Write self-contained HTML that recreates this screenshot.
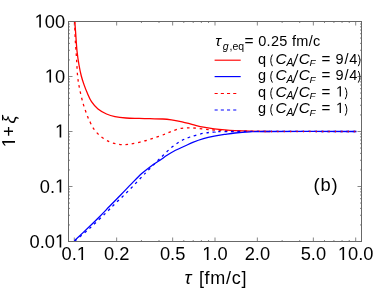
<!DOCTYPE html><html><head><meta charset="utf-8"><style>html,body{margin:0;padding:0;background:#fff}svg{display:block;will-change:transform}text{font-family:"Liberation Sans",sans-serif;fill:#000}</style></head><body>
<svg width="374" height="290" viewBox="0 0 374 290">
<rect width="374" height="290" fill="#fff"/>
<path d="M74.30 241.50V237.50 M74.30 21.50V25.50 M116.65 241.50V237.50 M116.65 21.50V25.50 M141.43 241.50V240.00 M141.43 21.50V23.00 M159.01 241.50V240.00 M159.01 21.50V23.00 M172.65 241.50V237.50 M172.65 21.50V25.50 M183.79 241.50V240.00 M183.79 21.50V23.00 M193.21 241.50V240.00 M193.21 21.50V23.00 M201.36 241.50V240.00 M201.36 21.50V23.00 M208.56 241.50V240.00 M208.56 21.50V23.00 M215.00 241.50V237.50 M215.00 21.50V25.50 M257.35 241.50V237.50 M257.35 21.50V25.50 M282.13 241.50V240.00 M282.13 21.50V23.00 M299.71 241.50V240.00 M299.71 21.50V23.00 M313.35 241.50V237.50 M313.35 21.50V25.50 M324.49 241.50V240.00 M324.49 21.50V23.00 M333.91 241.50V240.00 M333.91 21.50V23.00 M342.06 241.50V240.00 M342.06 21.50V23.00 M349.26 241.50V240.00 M349.26 21.50V23.00 M355.70 241.50V237.50 M355.70 21.50V25.50 M68.50 241.50H72.50 M361.50 241.50H357.50 M68.50 224.94H70.00 M361.50 224.94H360.00 M68.50 215.26H70.00 M361.50 215.26H360.00 M68.50 208.39H70.00 M361.50 208.39H360.00 M68.50 203.06H70.00 M361.50 203.06H360.00 M68.50 198.70H70.00 M361.50 198.70H360.00 M68.50 195.02H70.00 M361.50 195.02H360.00 M68.50 191.83H70.00 M361.50 191.83H360.00 M68.50 189.02H70.00 M361.50 189.02H360.00 M68.50 186.50H72.50 M361.50 186.50H357.50 M68.50 169.94H70.00 M361.50 169.94H360.00 M68.50 160.26H70.00 M361.50 160.26H360.00 M68.50 153.39H70.00 M361.50 153.39H360.00 M68.50 148.06H70.00 M361.50 148.06H360.00 M68.50 143.70H70.00 M361.50 143.70H360.00 M68.50 140.02H70.00 M361.50 140.02H360.00 M68.50 136.83H70.00 M361.50 136.83H360.00 M68.50 134.02H70.00 M361.50 134.02H360.00 M68.50 131.50H72.50 M361.50 131.50H357.50 M68.50 114.94H70.00 M361.50 114.94H360.00 M68.50 105.26H70.00 M361.50 105.26H360.00 M68.50 98.39H70.00 M361.50 98.39H360.00 M68.50 93.06H70.00 M361.50 93.06H360.00 M68.50 88.70H70.00 M361.50 88.70H360.00 M68.50 85.02H70.00 M361.50 85.02H360.00 M68.50 81.83H70.00 M361.50 81.83H360.00 M68.50 79.02H70.00 M361.50 79.02H360.00 M68.50 76.50H72.50 M361.50 76.50H357.50 M68.50 59.94H70.00 M361.50 59.94H360.00 M68.50 50.26H70.00 M361.50 50.26H360.00 M68.50 43.39H70.00 M361.50 43.39H360.00 M68.50 38.06H70.00 M361.50 38.06H360.00 M68.50 33.70H70.00 M361.50 33.70H360.00 M68.50 30.02H70.00 M361.50 30.02H360.00 M68.50 26.83H70.00 M361.50 26.83H360.00 M68.50 24.02H70.00 M361.50 24.02H360.00 M68.50 21.50H72.50 M361.50 21.50H357.50" stroke="#686868" stroke-width="0.8" fill="none"/>
<clipPath id="c"><rect x="68.50" y="21.50" width="293.00" height="220.00"/></clipPath>
<g clip-path="url(#c)" fill="none" stroke-width="1.3">
<path d="M74.80 21.40 C74.97 23.67 75.43 30.07 75.80 35.00 C76.17 39.93 76.47 46.00 77.00 51.00 C77.53 56.00 78.28 60.83 79.00 65.00 C79.72 69.17 80.47 72.73 81.30 76.00 C82.13 79.27 83.00 81.75 84.00 84.60 C85.00 87.45 86.05 90.25 87.30 93.10 C88.55 95.95 89.72 99.05 91.50 101.70 C93.28 104.35 95.50 106.95 98.00 109.00 C100.50 111.05 103.67 112.72 106.50 114.00 C109.33 115.28 111.75 116.03 115.00 116.70 C118.25 117.37 122.00 117.72 126.00 118.00 C130.00 118.28 135.00 118.28 139.00 118.40 C143.00 118.52 146.03 118.60 150.00 118.70 C153.97 118.80 159.23 118.80 162.80 119.00 C166.37 119.20 168.18 119.43 171.40 119.90 C174.62 120.37 178.53 121.02 182.10 121.80 C185.67 122.58 189.23 123.70 192.80 124.60 C196.37 125.50 199.93 126.50 203.50 127.20 C207.07 127.90 210.63 128.35 214.20 128.80 C217.77 129.25 221.43 129.60 224.90 129.90 C228.37 130.20 230.82 130.38 235.00 130.60 C239.18 130.82 244.17 131.05 250.00 131.20 C255.83 131.35 266.67 131.45 270.00 131.50" stroke="#f00"/>
<path d="M74.40 240.80 C77.00 238.33 85.73 230.10 90.00 226.00 C94.27 221.90 96.73 219.48 100.00 216.20 C103.27 212.92 106.12 209.88 109.60 206.30 C113.08 202.72 117.15 198.57 120.90 194.70 C124.65 190.83 128.63 186.62 132.10 183.10 C135.57 179.58 138.50 176.47 141.70 173.60 C144.90 170.73 148.25 168.13 151.30 165.90 C154.35 163.67 157.38 161.97 160.00 160.20 C162.62 158.43 164.63 156.83 167.00 155.30 C169.37 153.77 171.22 152.55 174.20 151.00 C177.18 149.45 181.80 147.43 184.90 146.00 C188.00 144.57 189.70 143.62 192.80 142.40 C195.90 141.18 199.93 139.73 203.50 138.70 C207.07 137.67 210.63 136.92 214.20 136.20 C217.77 135.48 221.43 134.93 224.90 134.40 C228.37 133.87 230.82 133.42 235.00 133.00 C239.18 132.58 245.00 132.15 250.00 131.90 C255.00 131.65 247.25 131.57 265.00 131.50 C282.75 131.43 341.25 131.50 356.50 131.50" stroke="#00f"/>
<path d="M74.60 21.40 C74.72 24.50 74.98 33.90 75.30 40.00 C75.62 46.10 76.12 52.00 76.50 58.00 C76.88 64.00 77.08 70.87 77.60 76.00 C78.12 81.13 78.67 84.17 79.60 88.80 C80.53 93.43 81.87 99.17 83.20 103.80 C84.53 108.43 86.58 113.85 87.60 116.60 C88.62 119.35 88.27 118.25 89.30 120.30 C90.33 122.35 91.90 126.22 93.80 128.90 C95.70 131.58 98.12 134.27 100.70 136.40 C103.28 138.53 106.45 140.42 109.30 141.70 C112.15 142.98 115.13 143.62 117.80 144.10 C120.47 144.58 122.80 144.67 125.30 144.60 C127.80 144.53 129.77 144.27 132.80 143.70 C135.83 143.13 139.93 142.17 143.50 141.20 C147.07 140.23 150.63 139.07 154.20 137.90 C157.77 136.73 162.03 135.27 164.90 134.20 C167.77 133.13 168.88 132.43 171.40 131.50 C173.92 130.57 177.15 129.22 180.00 128.60 C182.85 127.98 185.67 127.85 188.50 127.80 C191.33 127.75 194.15 128.05 197.00 128.30 C199.85 128.55 202.73 129.02 205.60 129.30 C208.47 129.58 210.13 129.73 214.20 130.00 C218.27 130.27 224.03 130.68 230.00 130.90 C235.97 131.12 244.67 131.20 250.00 131.30 C255.33 131.40 260.00 131.47 262.00 131.50" stroke="#f00" stroke-dasharray="2.6 3.8"/>
<path d="M74.80 241.00 C77.33 238.83 84.72 232.78 90.00 228.00 C95.28 223.22 102.17 216.50 106.50 212.30 C110.83 208.10 112.93 205.80 116.00 202.80 C119.07 199.80 121.95 197.20 124.90 194.30 C127.85 191.40 130.77 188.43 133.70 185.40 C136.63 182.37 140.23 178.47 142.50 176.10 C144.77 173.73 145.02 173.52 147.30 171.20 C149.58 168.88 153.50 164.90 156.20 162.20 C158.90 159.50 160.87 157.52 163.50 155.00 C166.13 152.48 169.15 149.42 172.00 147.10 C174.85 144.78 177.60 142.78 180.60 141.10 C183.60 139.42 186.18 138.30 190.00 137.00 C193.82 135.70 199.47 134.12 203.50 133.30 C207.53 132.48 209.78 132.40 214.20 132.10 C218.62 131.80 206.28 131.60 230.00 131.50 C253.72 131.40 335.42 131.50 356.50 131.50" stroke="#00f" stroke-dasharray="2.6 3.8"/>
<path d="M264.5 131.5H356.5" stroke="#f00" stroke-dasharray="1.2 5.2"/>
</g>
<rect x="68.50" y="21.50" width="293.00" height="220.00" fill="none" stroke="#686868" stroke-width="1"/>
<path d="M515 0V1237L197 1010V1180L530 1409H696V0Z" transform="translate(34.67,27.50) scale(0.00894,-0.00925)" fill="#000"/><text transform="translate(44.84,27.50) scale(1,1.035)" font-size="18.3">0</text><text transform="translate(55.02,27.50) scale(1,1.035)" font-size="18.3">0</text>
<path d="M515 0V1237L197 1010V1180L530 1409H696V0Z" transform="translate(44.84,82.50) scale(0.00894,-0.00925)" fill="#000"/><text transform="translate(55.02,82.50) scale(1,1.035)" font-size="18.3">0</text>
<path d="M515 0V1237L197 1010V1180L530 1409H696V0Z" transform="translate(55.02,137.50) scale(0.00894,-0.00925)" fill="#000"/>
<text transform="translate(39.76,192.50) scale(1,1.035)" font-size="18.3">0</text><text transform="translate(49.94,192.50) scale(1,1.035)" font-size="18.3">.</text><path d="M515 0V1237L197 1010V1180L530 1409H696V0Z" transform="translate(55.02,192.50) scale(0.00894,-0.00925)" fill="#000"/>
<text transform="translate(29.58,247.50) scale(1,1.035)" font-size="18.3">0</text><text transform="translate(39.76,247.50) scale(1,1.035)" font-size="18.3">.</text><text transform="translate(44.84,247.50) scale(1,1.035)" font-size="18.3">0</text><path d="M515 0V1237L197 1010V1180L530 1409H696V0Z" transform="translate(55.02,247.50) scale(0.00894,-0.00925)" fill="#000"/>
<text transform="translate(61.58,260.00) scale(1,1.035)" font-size="18.3">0</text><text transform="translate(71.76,260.00) scale(1,1.035)" font-size="18.3">.</text><path d="M515 0V1237L197 1010V1180L530 1409H696V0Z" transform="translate(76.84,260.00) scale(0.00894,-0.00925)" fill="#000"/>
<text transform="translate(103.94,260.00) scale(1,1.035)" font-size="18.3">0</text><text transform="translate(114.11,260.00) scale(1,1.035)" font-size="18.3">.</text><text transform="translate(119.20,260.00) scale(1,1.035)" font-size="18.3">2</text>
<text transform="translate(159.93,260.00) scale(1,1.035)" font-size="18.3">0</text><text transform="translate(170.10,260.00) scale(1,1.035)" font-size="18.3">.</text><text transform="translate(175.19,260.00) scale(1,1.035)" font-size="18.3">5</text>
<path d="M515 0V1237L197 1010V1180L530 1409H696V0Z" transform="translate(202.28,260.00) scale(0.00894,-0.00925)" fill="#000"/><text transform="translate(212.46,260.00) scale(1,1.035)" font-size="18.3">.</text><text transform="translate(217.54,260.00) scale(1,1.035)" font-size="18.3">0</text>
<text transform="translate(244.64,260.00) scale(1,1.035)" font-size="18.3">2</text><text transform="translate(254.81,260.00) scale(1,1.035)" font-size="18.3">.</text><text transform="translate(259.90,260.00) scale(1,1.035)" font-size="18.3">0</text>
<text transform="translate(300.63,260.00) scale(1,1.035)" font-size="18.3">5</text><text transform="translate(310.80,260.00) scale(1,1.035)" font-size="18.3">.</text><text transform="translate(315.89,260.00) scale(1,1.035)" font-size="18.3">0</text>
<path d="M515 0V1237L197 1010V1180L530 1409H696V0Z" transform="translate(337.89,260.00) scale(0.00894,-0.00925)" fill="#000"/><text transform="translate(348.07,260.00) scale(1,1.035)" font-size="18.3">0</text><text transform="translate(358.25,260.00) scale(1,1.035)" font-size="18.3">.</text><text transform="translate(363.33,260.00) scale(1,1.035)" font-size="18.3">0</text>
<text y="284" font-size="18"><tspan x="184.6" font-style="italic" font-size="18.5">τ</tspan><tspan x="198.9" textLength="47.6">[fm/c]</tspan></text>
<g transform="translate(15,144.5) rotate(-90)"><path d="M515 0V1237L197 1010V1180L530 1409H696V0Z" transform="translate(-2.70,0.00) scale(0.00879,-0.00910)" fill="#000"/><text font-size="18"><tspan x="8">+</tspan><tspan x="21" font-style="italic">ξ</tspan></text></g>
<text x="313.4" y="191.0" font-size="18.3" textLength="24.2">(b)</text>
<g stroke-width="1.15" fill="none">
<path d="M214.6 60.2H240.7" stroke="#f00"/>
<path d="M214.6 76.6H240.7" stroke="#00f"/>
<path d="M214.6 93.5H237" stroke="#f00" stroke-dasharray="3.1 3.1"/>
<path d="M214.6 110H237" stroke="#00f" stroke-dasharray="3.1 3.1"/>
</g>
<text y="46.3" font-size="14.5"><tspan x="215.3" font-style="italic" font-size="15.5">τ</tspan><tspan x="222.8" dy="3.2" font-size="10.5" font-style="italic">g</tspan><tspan x="229.6" font-size="10.5">,eq</tspan><tspan x="244.6" dy="-3.2" font-size="15.5">=</tspan><tspan x="258.2" textLength="62">0.25 fm/c</tspan></text>
<text y="63.60" font-size="14.5"><tspan x="258.0">q</tspan><tspan x="275.6" font-size="15.4" font-style="italic">C</tspan><tspan x="286.5" font-size="10.5" dy="2.6" font-style="italic">A</tspan><tspan x="298.7" dy="-2.6" font-size="15.4" font-style="italic">C</tspan><tspan x="309.5" font-size="9.9" dy="2.6" font-style="italic">F</tspan><tspan x="321.6" dy="-2.6" font-size="15.2">=</tspan><tspan x="335.5" textLength="21.8">9/4</tspan></text><path d="M293.0 66.50L297.9 53.90" stroke="#000" stroke-width="1.1" fill="none"/><path d="M272.40 54.60Q269.10 60.40 272.40 66.20" fill="none" stroke="#000" stroke-width="1"/><path d="M358.30 54.60Q361.60 60.40 358.30 66.20" fill="none" stroke="#000" stroke-width="1"/>
<text y="80.00" font-size="14.5"><tspan x="258.0">g</tspan><tspan x="275.6" font-size="15.4" font-style="italic">C</tspan><tspan x="286.5" font-size="10.5" dy="2.6" font-style="italic">A</tspan><tspan x="298.7" dy="-2.6" font-size="15.4" font-style="italic">C</tspan><tspan x="309.5" font-size="9.9" dy="2.6" font-style="italic">F</tspan><tspan x="321.6" dy="-2.6" font-size="15.2">=</tspan><tspan x="335.5" textLength="21.8">9/4</tspan></text><path d="M293.0 82.90L297.9 70.30" stroke="#000" stroke-width="1.1" fill="none"/><path d="M272.40 71.00Q269.10 76.80 272.40 82.60" fill="none" stroke="#000" stroke-width="1"/><path d="M358.30 71.00Q361.60 76.80 358.30 82.60" fill="none" stroke="#000" stroke-width="1"/>
<text y="96.60" font-size="14.5"><tspan x="258.0">q</tspan><tspan x="275.6" font-size="15.4" font-style="italic">C</tspan><tspan x="286.5" font-size="10.5" dy="2.6" font-style="italic">A</tspan><tspan x="298.7" dy="-2.6" font-size="15.4" font-style="italic">C</tspan><tspan x="309.5" font-size="9.9" dy="2.6" font-style="italic">F</tspan><tspan x="321.6" dy="-2.6" font-size="15.2">=</tspan></text><path d="M515 0V1237L197 1010V1180L530 1409H696V0Z" transform="translate(336.00,96.60) scale(0.00708,-0.00733)" fill="#000"/><path d="M293.0 99.50L297.9 86.90" stroke="#000" stroke-width="1.1" fill="none"/><path d="M272.40 87.60Q269.10 93.40 272.40 99.20" fill="none" stroke="#000" stroke-width="1"/><path d="M345.20 87.60Q348.50 93.40 345.20 99.20" fill="none" stroke="#000" stroke-width="1"/>
<text y="113.00" font-size="14.5"><tspan x="258.0">g</tspan><tspan x="275.6" font-size="15.4" font-style="italic">C</tspan><tspan x="286.5" font-size="10.5" dy="2.6" font-style="italic">A</tspan><tspan x="298.7" dy="-2.6" font-size="15.4" font-style="italic">C</tspan><tspan x="309.5" font-size="9.9" dy="2.6" font-style="italic">F</tspan><tspan x="321.6" dy="-2.6" font-size="15.2">=</tspan></text><path d="M515 0V1237L197 1010V1180L530 1409H696V0Z" transform="translate(336.00,113.00) scale(0.00708,-0.00733)" fill="#000"/><path d="M293.0 115.90L297.9 103.30" stroke="#000" stroke-width="1.1" fill="none"/><path d="M272.40 104.00Q269.10 109.80 272.40 115.60" fill="none" stroke="#000" stroke-width="1"/><path d="M345.20 104.00Q348.50 109.80 345.20 115.60" fill="none" stroke="#000" stroke-width="1"/>
</svg></body></html>
